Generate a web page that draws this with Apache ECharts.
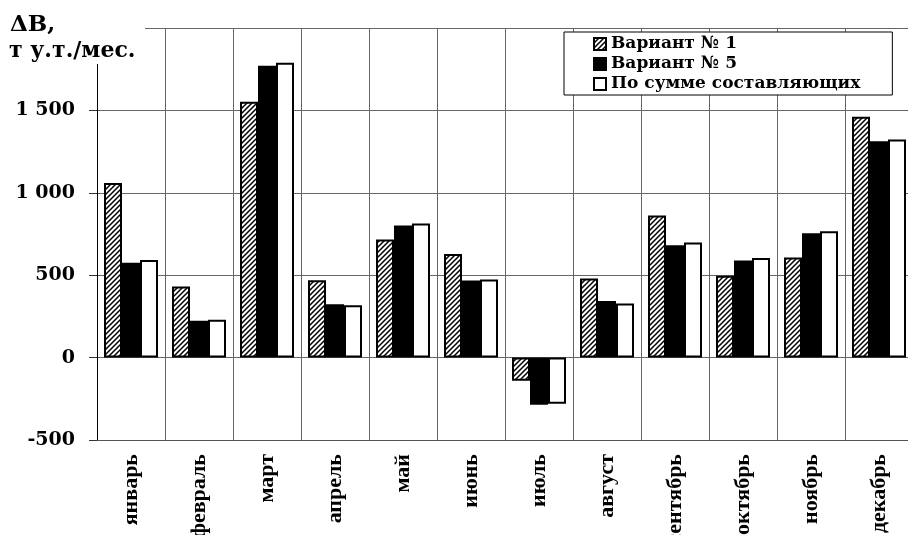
<!DOCTYPE html>
<html>
<head>
<meta charset="utf-8">
<script src="https://cdn.jsdelivr.net/npm/echarts@6/dist/echarts.min.js"></script>
<style>
html, body { margin: 0; padding: 0; background: #fff; }
#chart { width: 908px; height: 535px; }
</style>
</head>
<body>
<div id="chart"></div>
<script>
var months = ['январь', 'февраль', 'март', 'апрель', 'май', 'июнь', 'июль', 'август', 'сентябрь', 'октябрь', 'ноябрь', 'декабрь'];
var variant1 = [1060, 432, 1553, 470, 716, 629, -141, 480, 863, 496, 607, 1462];
var variant5 = [575, 224, 1771, 323, 801, 468, -286, 343, 682, 589, 754, 1313];
var bySum = [592, 230, 1789, 317, 813, 474, -280, 329, 698, 605, 766, 1323];
var seriesNames = ['Вариант № 1', 'Вариант № 5', 'По сумме составляющих'];

// diagonal hatch for the first series
function hatch() {
	var c = document.createElement('canvas');
	c.width = 5; c.height = 5;
	var ctx = c.getContext('2d');
	ctx.fillStyle = '#fff';
	ctx.fillRect(0, 0, 5, 5);
	ctx.strokeStyle = '#000';
	ctx.lineWidth = 1.5;
	ctx.beginPath();
	ctx.moveTo(-1, 6); ctx.lineTo(6, -1);
	ctx.moveTo(-1, 1); ctx.lineTo(1, -1);
	ctx.moveTo(4, 6); ctx.lineTo(6, 4);
	ctx.stroke();
	return c;
}

var serif = 'DejaVu Serif';
var chart = echarts.init(document.getElementById('chart'));
var option = {
	animation: false,
	backgroundColor: '#fff',
	grid: { left: 97, top: 28, width: 816, height: 412, outerBoundsMode: 'none', containLabel: false },
	legend: {
		data: seriesNames,
		orient: 'vertical',
		left: 564, top: 32,
		itemWidth: 12, itemHeight: 12, itemGap: 2,
		padding: [3, 32, 2, 29],
		borderColor: '#000', borderWidth: 1,
		backgroundColor: '#fff',
		icon: 'rect',
		textStyle: { fontFamily: serif, fontWeight: 'bold', fontSize: 17, lineHeight: 18, color: '#000' }
	},
	xAxis: {
		type: 'category',
		data: months,
		axisLine: { onZero: false, lineStyle: { color: '#555', width: 1 } },
		axisTick: { show: false },
		splitLine: { show: true, interval: 0, lineStyle: { color: '#666', width: 1 } },
		axisLabel: {
			interval: 0, rotate: 90, margin: 14,
			fontFamily: 'Liberation Serif', fontWeight: 'bold', fontSize: 22, color: '#000'
		}
	},
	yAxis: {
		type: 'value',
		min: -500, max: 2000, interval: 500,
		axisLine: { show: true, lineStyle: { color: '#000', width: 1 } },
		axisTick: { show: true, length: 8, lineStyle: { color: '#333' } },
		splitLine: { lineStyle: { color: '#666', width: 1 } },
		axisLabel: {
			margin: 22,
			fontFamily: serif, fontWeight: 'bold', fontSize: 19, color: '#000',
			formatter: function (v) {
				if (v === 2000) return '';
				var s = String(Math.abs(v));
				if (s.length > 3) s = s.slice(0, -3) + ' ' + s.slice(-3);
				return (v < 0 ? '-' : '') + s;
			}
		}
	},
	graphic: [
		{ type: 'rect', left: 0, top: 0, shape: { width: 145, height: 64 }, style: { fill: '#fff' }, z: 100 },
		{ type: 'text', left: 10, top: 14, z: 101, style: { text: 'ΔВ,', font: 'bold 23px "DejaVu Serif"', fill: '#000' } },
		{ type: 'text', left: 9, top: 40, z: 101, style: { text: 'т у.т./мес.', font: 'bold 22px "DejaVu Serif"', fill: '#000' } }
	],
	series: [
		{ name: seriesNames[0], type: 'bar', data: variant1, barWidth: 18, barGap: '0%',
		  itemStyle: { color: { image: hatch(), repeat: 'repeat' }, borderColor: '#000', borderWidth: 2 } },
		{ name: seriesNames[1], type: 'bar', data: variant5, barWidth: 18, barGap: '0%',
		  itemStyle: { color: '#000', borderColor: '#000', borderWidth: 2 } },
		{ name: seriesNames[2], type: 'bar', data: bySum, barWidth: 18, barGap: '0%',
		  itemStyle: { color: '#fff', borderColor: '#000', borderWidth: 2 } }
	]
};
chart.setOption(option);
</script>
</body>
</html>
